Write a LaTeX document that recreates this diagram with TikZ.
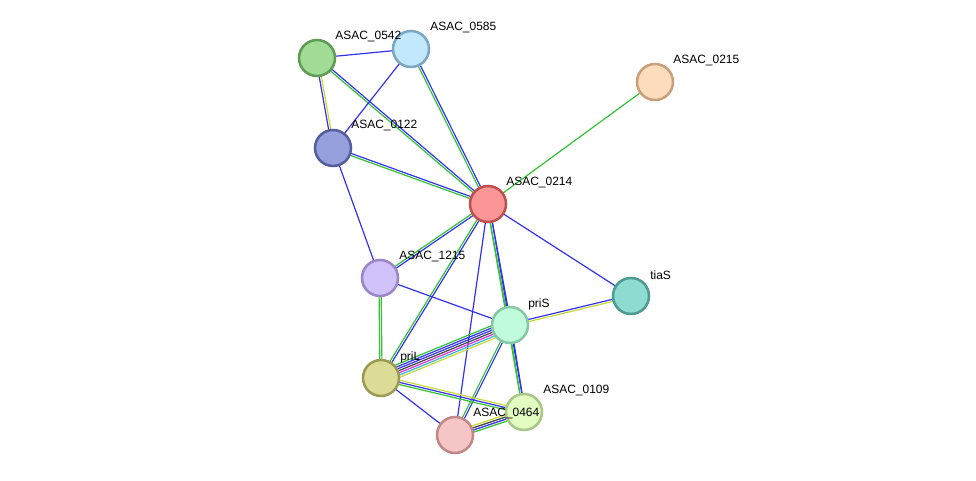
\documentclass[tikz,border=0pt]{standalone}
\usepackage{fontspec}
\setmainfont{Liberation Sans}
\usetikzlibrary{calc}
\definecolor{eg}{HTML}{33C233}\definecolor{eb}{HTML}{3333EE}\definecolor{ey}{HTML}{C8D83A}
\definecolor{ec}{HTML}{33B8D8}\definecolor{em}{HTML}{D833D8}\definecolor{ek}{HTML}{444444}
\newcommand{\edg}[4]{% a b n colors
  \foreach \c [count=\i] in {#4}{
    \pgfmathsetmacro\off{(\i-1-(#3-1)/2)*1.6}
    \draw[\c,line width=0.9pt] ($(#1)!\off pt!90:(#2)$) -- ($(#2)!\off pt!-90:(#1)$);
  }}
\newcommand{\nd}[5]{% name x y fill border
  \definecolor{f#1}{HTML}{#4}\definecolor{b#1}{HTML}{#5}
  \node[circle,minimum size=27pt,inner sep=0pt,line width=1.9pt,fill=f#1,draw=b#1] (#1) at (#2,#3) {};}
\begin{document}
\begin{tikzpicture}[x=0.75pt,y=-0.75pt]
\useasboundingbox (0,0) rectangle (976,481);
\coordinate (c0542) at (317,58); \coordinate (c0585) at (411,49); \coordinate (c0215) at (655,82);
\coordinate (c0122) at (333,148); \coordinate (c0214) at (488,204); \coordinate (c1215) at (380,278);
\coordinate (ctiaS) at (631,296); \coordinate (cpriS) at (510,325); \coordinate (cpriL) at (381,378);
\coordinate (c0109) at (524,412); \coordinate (c0464) at (455,435);
\edg{c0542}{c0585}{1}{eb}
\edg{c0542}{c0122}{2}{eb,ey}
\edg{c0542}{c0214}{2}{eg,eb}
\edg{c0585}{c0122}{1}{eb}
\edg{c0585}{c0214}{2}{eg,eb}
\edg{c0122}{c0214}{2}{eg,eb}
\edg{c0122}{c1215}{1}{eb}
\edg{c0215}{c0214}{1}{eg}
\edg{c0214}{c1215}{2}{eg,eb}
\edg{c0214}{ctiaS}{1}{eb}
\edg{c0214}{cpriS}{2}{eg,eb}
\edg{c0214}{cpriL}{2}{eg,eb}
\edg{c0214}{c0464}{1}{eb}
\edg{c0214}{c0109}{2}{eg,eb}
\edg{c1215}{cpriS}{1}{eb}
\edg{c1215}{cpriL}{2}{eg,eg}
\edg{cpriS}{ctiaS}{2}{ey,eb}
\edg{cpriS}{cpriL}{7}{eg,eb,eb,ek,em,ec,ey}
\edg{cpriS}{c0109}{2}{eg,eb}
\edg{cpriS}{c0464}{2}{eg,eb}
\edg{cpriL}{c0109}{3}{eg,eb,ey}
\edg{cpriL}{c0464}{1}{eb}
\edg{c0464}{c0109}{4}{eg,eb,ek,ey}
\nd{n0542}{317}{58}{A0DC96}{5F9B55}
\nd{n0585}{411}{49}{C2E8FC}{7BA7C2}
\nd{n0215}{655}{82}{FCDCBC}{C8A07A}
\nd{n0122}{333}{148}{96A0DC}{55609B}
\nd{n0214}{488}{204}{FC9696}{C05050}
\nd{n1215}{380}{278}{D2C2FC}{9B87C8}
\nd{ntiaS}{631}{296}{8CDCD2}{4F9B91}
\nd{npriS}{510}{325}{C0FCDC}{86C8A4}
\nd{npriL}{381}{378}{DCDC96}{9B9B55}
\nd{n0109}{524}{412}{E2FCC2}{A8C887}
\nd{n0464}{455}{435}{F6C6C6}{C08888}
\tikzset{lb/.style={anchor=west,inner sep=0pt,font=\fontsize{9pt}{10pt}\selectfont}}
\node[lb] (l0542) at (335,37) {ASAC\_0542};
\node[lb] (l0585) at (430,28) {ASAC\_0585};
\node[lb] (l0215) at (673,61) {ASAC\_0215};
\node[lb] (l0122) at (351,126) {ASAC\_0122};
\node[lb] (l0214) at (506,183) {ASAC\_0214};
\node[lb] (l1215) at (399,257) {ASAC\_1215};
\node[lb] (ltiaS) at (650,275) {tiaS};
\node[lb] (lpriS) at (528,304) {priS};
\node[lb] (lpriL) at (400,357) {priL};
\node[lb] (l0109) at (543,391) {ASAC\_0109};
\node[lb] (l0464) at (473,414) {ASAC\_0464};
\end{tikzpicture}
\end{document}
